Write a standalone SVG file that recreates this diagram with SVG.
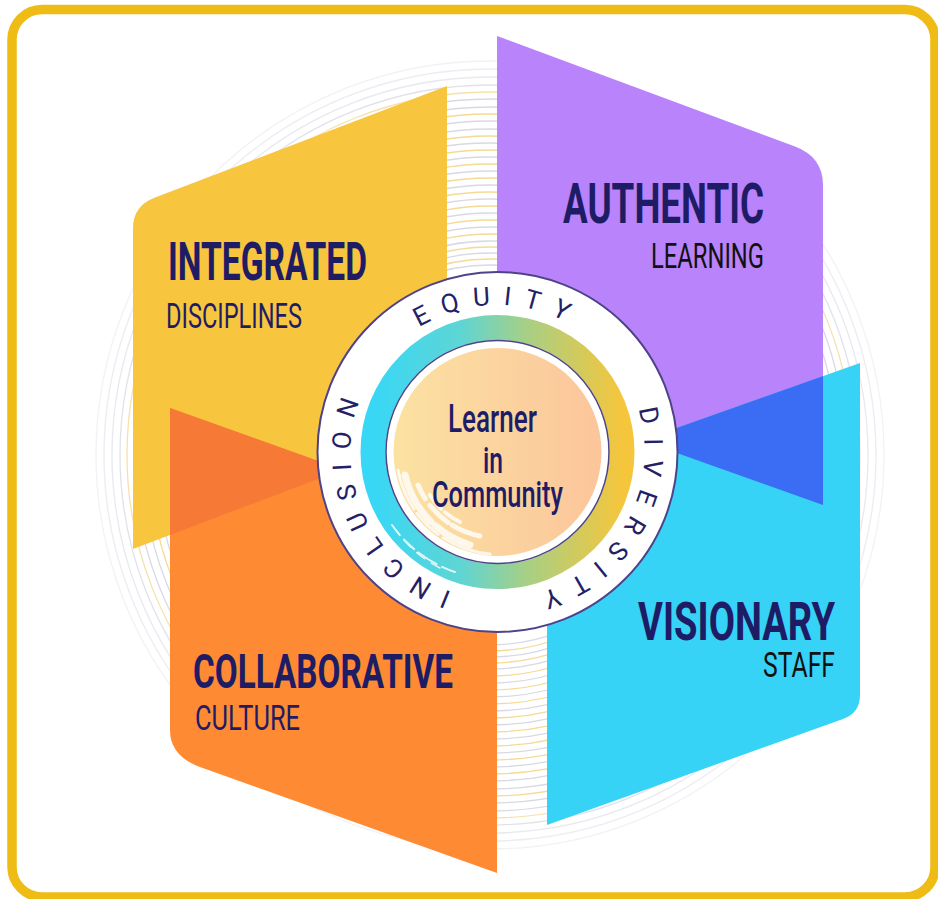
<svg xmlns="http://www.w3.org/2000/svg" width="938" height="899" viewBox="0 0 938 899">
  <defs>
    <style>
      .head { font-family: Roboto, "Liberation Sans", sans-serif; font-weight: 700; fill: #1F1C66; }
      .sub { font-family: Roboto, "Liberation Sans", sans-serif; font-weight: 400; }
      .navy { fill: #1F1C66; }
      .black { fill: #111111; }
      .ctr { font-family: Roboto, "Liberation Sans", sans-serif; font-weight: 500; fill: #1F1C66; }
      .ring { font-family: Roboto, "Liberation Sans", sans-serif; font-weight: 400; font-size: 26px; letter-spacing: 13px; fill: #241F66; }
      .sw1 { fill: none; stroke: #D9D9E5; stroke-width: 1.3; }
      .sw2 { fill: none; stroke: #F5DA95; stroke-width: 1.3; }
      .brush { fill: none; stroke: #FFFFFF; stroke-linecap: round; }
    </style>
    <path id="yellowShape" d="M447,86 L155,197.6 Q133,206 133,228 L133,549 L447,430 Z"/>
    <path id="orangeShape" d="M170,408 L497,525 L497,873 L200,767 Q170,756 170,730 Z"/>
    <path id="purpleShape" d="M497,36 L795,146.5 Q823,157 823,185 L823,505 L497,389 Z"/>
    <path id="cyanShape" d="M547,474 L860,363 L860,695 Q860,713 843,719 L547,825 Z"/>
    <clipPath id="clipOrange"><use href="#orangeShape"/></clipPath>
    <clipPath id="clipCyan"><use href="#cyanShape"/></clipPath>
    <linearGradient id="ringGrad" x1="0" y1="0" x2="1" y2="0">
      <stop offset="0" stop-color="#38D7F6"/>
      <stop offset="0.35" stop-color="#5ED5D4"/>
      <stop offset="0.62" stop-color="#A8CF84"/>
      <stop offset="1" stop-color="#F5C63C"/>
    </linearGradient>
    <linearGradient id="peachGrad" x1="0" y1="0" x2="1" y2="0">
      <stop offset="0" stop-color="#FBE2A2"/>
      <stop offset="1" stop-color="#FCC59B"/>
    </linearGradient>
    <path id="ringPath" d="M497.5,599 A147,147 0 1 1 497.5,305 A147,147 0 1 1 497.5,599"/>
  </defs>

  <!-- frame -->
  <rect x="12" y="9.5" width="923" height="887.5" rx="30" ry="30" fill="#FFFFFF" stroke="#EFBC15" stroke-width="9.5"/>

  <!-- background swirl -->
  <g id="swirl">
    <circle class="sw1" cx="490" cy="455" r="190"/>
    <circle class="sw2" cx="490" cy="455" r="196"/>
    <circle class="sw1" cx="490" cy="455" r="202"/>
    <circle class="sw2" cx="490" cy="455" r="208"/>
    <circle class="sw1" cx="490" cy="455" r="214"/>
    <circle class="sw2" cx="490" cy="455" r="221"/>
    <circle class="sw1" cx="490" cy="455" r="228"/>
    <circle class="sw2" cx="490" cy="455" r="235"/>
    <circle class="sw1" cx="490" cy="455" r="242"/>
    <circle class="sw2" cx="490" cy="455" r="249"/>
    <circle class="sw1" cx="490" cy="455" r="256"/>
    <circle class="sw2" cx="490" cy="455" r="263"/>
    <circle class="sw1" cx="490" cy="455" r="270"/>
    <circle class="sw2" cx="490" cy="455" r="277"/>
    <circle class="sw1" cx="490" cy="455" r="284"/>
    <circle class="sw2" cx="490" cy="455" r="291"/>
    <circle class="sw1" cx="490" cy="455" r="298"/>
    <circle class="sw2" cx="490" cy="455" r="305"/>
    <circle class="sw1" cx="490" cy="455" r="312"/>
    <circle class="sw2" cx="490" cy="455" r="319"/>
    <circle class="sw1" cx="490" cy="455" r="326"/>
    <circle class="sw1" cx="490" cy="455" r="334"/>
    <circle class="sw2" cx="490" cy="455" r="341"/>
    <circle class="sw1" cx="490" cy="455" r="348"/>
    <circle class="sw1" cx="490" cy="455" r="356"/>
    <circle class="sw2" cx="490" cy="455" r="363" opacity="0.8"/>
    <circle class="sw1" cx="490" cy="455" r="370" opacity="0.8"/>
    <circle class="sw1" cx="490" cy="455" r="378" opacity="0.6"/>
    <circle class="sw1" cx="490" cy="455" r="386" opacity="0.5"/>
    <circle class="sw1" cx="490" cy="455" r="394" opacity="0.35"/>
  </g>

  <g id="integrated">
    <use href="#yellowShape" fill="#F8C53E"/>
    <text class="head" x="168" y="280" font-size="53" textLength="199" lengthAdjust="spacingAndGlyphs">INTEGRATED</text>
    <text class="sub navy" x="166" y="328" font-size="35" textLength="136" lengthAdjust="spacingAndGlyphs">DISCIPLINES</text>
  </g>

  <g id="authentic">
    <use href="#purpleShape" fill="#B983FC"/>
    <text class="head" x="563" y="223" font-size="56" textLength="201" lengthAdjust="spacingAndGlyphs">AUTHENTIC</text>
    <text class="sub black" x="651" y="268" font-size="35" textLength="113" lengthAdjust="spacingAndGlyphs">LEARNING</text>
  </g>

  <g id="collaborative">
    <use href="#orangeShape" fill="#FE8A34"/>
    <g clip-path="url(#clipOrange)">
      <use href="#yellowShape" fill="#F67A35"/>
    </g>
    <text class="head" x="193" y="688" font-size="49" textLength="260" lengthAdjust="spacingAndGlyphs">COLLABORATIVE</text>
    <text class="sub navy" x="195" y="730" font-size="35" textLength="105" lengthAdjust="spacingAndGlyphs">CULTURE</text>
  </g>

  <g id="visionary">
    <use href="#cyanShape" fill="#36D3F7"/>
    <g clip-path="url(#clipCyan)">
      <use href="#purpleShape" fill="#3A6CF4"/>
    </g>
    <text class="head" x="638" y="640" font-size="53" textLength="197" lengthAdjust="spacingAndGlyphs">VISIONARY</text>
    <text class="sub black" x="763" y="677" font-size="35" textLength="72" lengthAdjust="spacingAndGlyphs">STAFF</text>
  </g>

  <g id="center">
    <circle cx="497.5" cy="452" r="180" fill="#FFFFFF" stroke="#4E4388" stroke-width="2"/>
    <circle cx="497.5" cy="452" r="124.5" fill="none" stroke="url(#ringGrad)" stroke-width="25"/>
    <circle cx="497.5" cy="452" r="111.5" fill="#FFFFFF" stroke="#4E4388" stroke-width="1.5"/>
    <circle cx="497.5" cy="452" r="104" fill="url(#peachGrad)"/>
    <g class="brush" opacity="0.8">
      <path d="M470,545 A95,95 0 0 1 405,475" stroke-width="7" stroke-dasharray="40 6 20 4"/>
      <path d="M480,536 A85,85 0 0 1 418,485" stroke-width="5" stroke-dasharray="30 5 25 8"/>
      <path d="M460,522 A75,75 0 0 1 428,492" stroke-width="4" stroke-dasharray="18 5"/>
      <path d="M490,554 A103,103 0 0 1 398,470" stroke-width="3" stroke-dasharray="50 6 30 5"/>
      <path d="M455,572 A126,126 0 0 1 392,525" stroke-width="2" stroke-dasharray="14 6 22 5"/>
      <path d="M440,568 A120,120 0 0 1 396,530" stroke-width="1.5" stroke-dasharray="10 8"/>
    </g>
    <text class="ctr" x="448" y="432" font-size="38" textLength="89" lengthAdjust="spacingAndGlyphs">Learner</text>
    <text class="ctr" x="483" y="473" font-size="37" textLength="20" lengthAdjust="spacingAndGlyphs">in</text>
    <text class="ctr" x="432" y="507" font-size="37" textLength="131" lengthAdjust="spacingAndGlyphs">Community</text>
    <text class="ring"><textPath href="#ringPath" startOffset="461.7" text-anchor="middle">EQUITY</textPath></text>
    <text class="ring"><textPath href="#ringPath" startOffset="769.8" text-anchor="middle">DIVERSITY</textPath></text>
    <text class="ring"><textPath href="#ringPath" startOffset="170.7" text-anchor="middle">INCLUSION</textPath></text>
  </g>

  <g id="connectors"/>
</svg>
